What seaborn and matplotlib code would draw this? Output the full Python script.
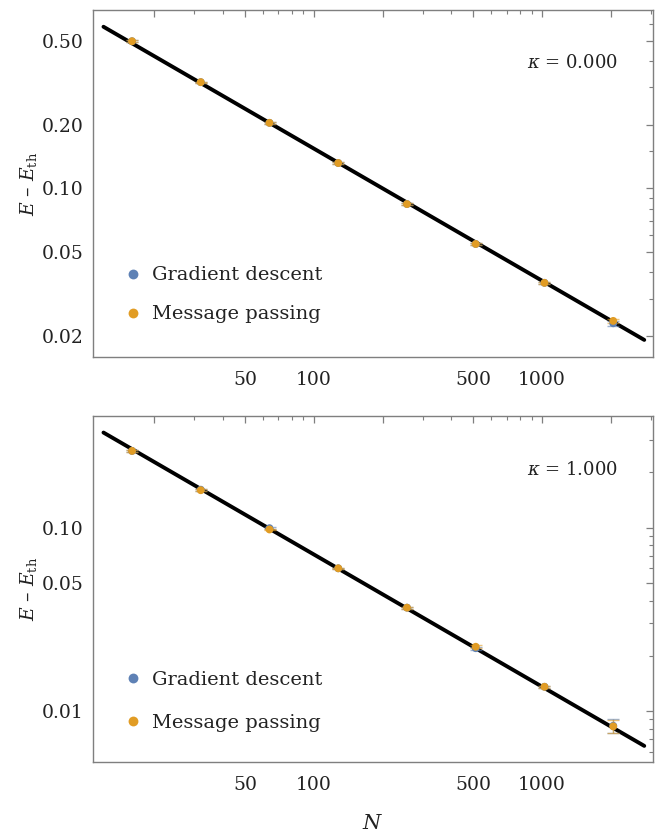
import numpy as np
import pandas as pd
import matplotlib
matplotlib.use("Agg")
import matplotlib.pyplot as plt
import matplotlib.ticker as mticker
import seaborn as sns

sns.set_theme(style="white")
plt.rcParams['font.family'] = ['DejaVu Serif']
plt.rcParams['mathtext.fontset'] = 'dejavuserif'

# ---- data ----
N = [16, 32, 64, 128, 256, 512, 1024, 2048]

# kappa = 0.000
gd0 = [0.497, 0.318, 0.204, 0.1316, 0.0841, 0.0544, 0.0356, 0.0229]
mp0 = [0.497, 0.318, 0.204, 0.1316, 0.0841, 0.0544, 0.0356, 0.0235]
gd0_err = [0.004, 0.002, 0.0015, 0.001, 0.0006, 0.0004, 0.0004, 0.0006]
mp0_err = [0.004, 0.002, 0.0015, 0.001, 0.0006, 0.0004, 0.0004, 0.0006]
fit0_N = [12, 2800]
fit0_E = [0.582, 0.0191]

# kappa = 1.000
gd1 = [0.262, 0.161, 0.0993, 0.0600, 0.0366, 0.0220, 0.01355, 0.0083]
mp1 = [0.262, 0.160, 0.0977, 0.0600, 0.0366, 0.0224, 0.01355, 0.00824]
gd1_err = [0.003, 0.002, 0.0012, 0.0006, 0.0004, 0.0004, 0.0002, 0.0007]
mp1_err = [0.003, 0.002, 0.0012, 0.0006, 0.0004, 0.0004, 0.0002, 0.0007]
fit1_N = [12, 2800]
fit1_E = [0.330, 0.00645]

kappa_labels = ["0.000", "1.000"]
series_names = ["Gradient descent", "Message passing"]

blue = "#5E81B5"
orange = "#E19C24"
frame_col = "#7f7f7f"
txt_col = "#222222"

fig = plt.figure(figsize=(6.57, 8.31), dpi=100)
ax0 = fig.add_axes([0.1416, 0.5704, 0.8524, 0.4176])
ax1 = fig.add_axes([0.1416, 0.0827, 0.8524, 0.4171])

panels = [
    (ax0, gd0, mp0, gd0_err, mp0_err, fit0_N, fit0_E, kappa_labels[0],
     (0.01585, 0.699), [0.02, 0.05, 0.1, 0.2, 0.5], ["0.02", "0.05", "0.10", "0.20", "0.50"],
     [0.03, 0.04, 0.06, 0.07, 0.08, 0.09, 0.15, 0.3, 0.4, 0.6], 0.847, 0.1787, 1.08),
    (ax1, gd1, mp1, gd1_err, mp1_err, fit1_N, fit1_E, kappa_labels[1],
     (0.00525, 0.408), [0.01, 0.05, 0.1], ["0.01", "0.05", "0.10"],
     [0.006, 0.007, 0.008, 0.009, 0.02, 0.03, 0.04, 0.06, 0.07, 0.08, 0.09, 0.2, 0.3], 0.843, 0.176, 1.28),
]

for (ax, gd, mp, gde, mpe, fN, fE, klab, ylim, yt, ytl, yminor, ky, legy, lspace) in panels:
    df = pd.DataFrame({
        "N": N * 2,
        "E": gd + mp,
        "err": gde + mpe,
        "method": [series_names[0]] * len(N) + [series_names[1]] * len(N),
    })
    ax.set_xscale("log")
    ax.set_yscale("log")
    # fit line
    fdf = pd.DataFrame({"N": fN, "E": fE})
    sns.lineplot(data=fdf, x="N", y="E", ax=ax, color="black", lw=2.8, zorder=2, legend=False)
    # error bars
    for name, col in zip(series_names, [blue, orange]):
        sub = df[df["method"] == name]
        ax.errorbar(sub["N"], sub["E"], yerr=sub["err"], fmt="none",
                    ecolor=col, alpha=0.6, elinewidth=1.0, capsize=4, capthick=1.0, zorder=3)
    sns.scatterplot(data=df, x="N", y="E", hue="method", palette=[blue, orange],
                    s=32, edgecolor="none", ax=ax, zorder=4)
    ax.set_xlim(10.8, 3060)
    ax.set_ylim(*ylim)

    # ticks
    ax.xaxis.set_major_locator(mticker.FixedLocator([20, 50, 100, 200, 500, 1000, 2000]))
    ax.xaxis.set_major_formatter(mticker.FixedFormatter(["", "50", "100", "", "500", "1000", ""]))
    ax.xaxis.set_minor_locator(mticker.FixedLocator([30, 40, 60, 70, 80, 90, 300, 400, 600, 700, 800, 900, 3000]))
    ax.xaxis.set_minor_formatter(mticker.NullFormatter())
    ax.yaxis.set_major_locator(mticker.FixedLocator(yt))
    ax.yaxis.set_major_formatter(mticker.FixedFormatter(ytl))
    ax.yaxis.set_minor_locator(mticker.FixedLocator(yminor))
    ax.yaxis.set_minor_formatter(mticker.NullFormatter())
    ax.tick_params(which="both", direction="in", top=True, right=True, color=frame_col,
                   labelsize=13.5, labelcolor=txt_col)
    ax.tick_params(axis="x", which="both", pad=10)
    ax.tick_params(axis="y", which="both", pad=7)
    ax.tick_params(which="major", length=5, width=0.9)
    ax.tick_params(which="minor", length=3, width=0.8)
    for sp in ax.spines.values():
        sp.set_color(frame_col)
        sp.set_linewidth(1.0)

    ax.set_xlabel("")
    ax.set_ylabel(r"$E$ – $E_{\mathrm{th}}$", fontsize=13.5, labelpad=2, color=txt_col)
    ax.text(0.775, ky, r"$\kappa$ = " + klab, transform=ax.transAxes, fontsize=13,
            ha="left", va="center", color=txt_col)

    leg = ax.legend(loc="center left", bbox_to_anchor=(0.054, legy), frameon=False,
                    fontsize=14, handlelength=1.0, handletextpad=0.5, labelspacing=lspace,
                    markerscale=1.25, borderaxespad=0, borderpad=0)
    for t in leg.get_texts():
        t.set_color(txt_col)

ax1.set_xlabel(r"$N$", fontsize=15, labelpad=14, color=txt_col)

fig.savefig("out.png", dpi=100)
